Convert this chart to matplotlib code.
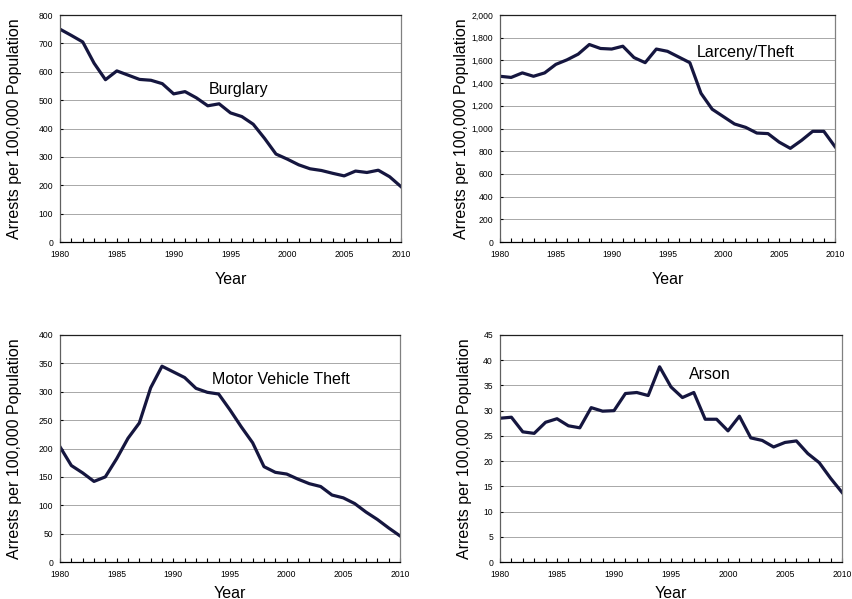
import matplotlib
matplotlib.use("Agg")
import matplotlib.pyplot as plt
from matplotlib.ticker import MultipleLocator, FuncFormatter

plt.rcParams['font.family'] = ['Liberation Sans', 'DejaVu Sans']

years = list(range(1980, 2011))

burglary = [750, 728, 705, 630, 572, 603, 588, 573, 570, 558,
            522, 530, 508, 480, 487, 455, 442, 415, 365, 310,
            292, 272, 258, 252, 242, 233, 250, 245, 253, 230, 195]

larceny = [1460, 1450, 1490, 1460, 1490, 1565, 1605, 1655, 1740, 1705,
           1700, 1725, 1625, 1580, 1700, 1680, 1630, 1580, 1310, 1170,
           1105, 1040, 1010, 960, 955, 880, 825, 895, 975, 975, 840]

motor_vehicle = [203, 170, 157, 142, 150, 182, 218, 245, 307, 345,
                 335, 325, 306, 299, 296, 268, 238, 210, 168, 158,
                 155, 146, 138, 133, 118, 113, 103, 88, 75, 60, 46]

arson = [28.5, 28.7, 25.8, 25.5, 27.7, 28.4, 27.0, 26.6, 30.6, 29.9,
         30.0, 33.4, 33.6, 33.0, 38.7, 34.7, 32.6, 33.6, 28.3, 28.3,
         26.0, 28.9, 24.6, 24.1, 22.8, 23.7, 24.0, 21.5, 19.7, 16.6, 13.8]

titles = ["Burglary", "Larceny/Theft", "Motor Vehicle Theft", "Arson"]
series = [burglary, larceny, motor_vehicle, arson]
ymaxes = [800, 2000, 400, 45]
ysteps = [100, 200, 50, 5]
label_pos = [(1993.1, 539), (1997.6, 1674), (1993.4, 321), (1996.6, 37.1)]

# axes rectangles in pixels: left, bottom, width
W, H = 853, 599
rects = [(60, 242, 341), (500, 242, 335), (60, 562, 340), (500, 562, 342)]
ylab_x = [-0.111, -0.092, -0.111, -0.082]
xlab_y = [-0.130, -0.130, -0.104, -0.104]

fig = plt.figure(figsize=(W / 100, H / 100), dpi=100)

for i in range(4):
    left, bottom_px, width = rects[i]
    ax = fig.add_axes([left / W, (H - bottom_px) / H, width / W, 227 / H])
    ax.plot(years, series[i], color='#15163f', lw=2.3, solid_joinstyle='round')
    ax.set_xlim(1980, 2010)
    ax.set_ylim(0, ymaxes[i])
    ax.xaxis.set_major_locator(MultipleLocator(5))
    ax.xaxis.set_minor_locator(MultipleLocator(1))
    ax.yaxis.set_major_locator(MultipleLocator(ysteps[i]))
    if ymaxes[i] >= 1000:
        ax.yaxis.set_major_formatter(FuncFormatter(lambda v, p: f"{int(v):,}"))
    ax.grid(axis='y', color='#a8a8a8', lw=0.7)
    ax.set_axisbelow(True)
    ax.tick_params(axis='x', which='both', direction='in', length=3,
                   width=0.8, labelsize=6.2, pad=6)
    ax.tick_params(axis='y', direction='in', length=2, width=0.8,
                   labelsize=6.2, pad=5)
    ax.spines['bottom'].set_color('black')
    ax.spines['top'].set_color('#202020')
    ax.spines['left'].set_color('#606060')
    ax.spines['right'].set_color('#808080')
    for s in ax.spines.values():
        s.set_linewidth(0.9)
    ax.set_ylabel("Arrests per 100,000 Population", fontsize=11.5)
    ax.yaxis.set_label_coords(ylab_x[i], 0.5)
    ax.set_xlabel("Year", fontsize=11.5)
    ax.xaxis.set_label_coords(0.5, xlab_y[i])
    ax.text(label_pos[i][0], label_pos[i][1], titles[i], fontsize=11.5,
            va='center', ha='left')

fig.savefig("out.png", dpi=100)
